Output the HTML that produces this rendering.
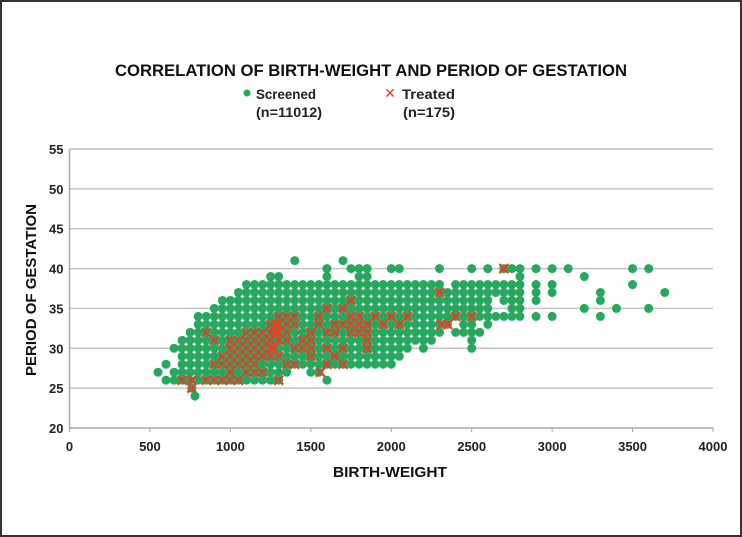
<!DOCTYPE html>
<html><head><meta charset="utf-8"><style>
body{margin:0;background:#fff}
svg{display:block;font-family:"Liberation Sans",sans-serif}
</style></head><body>
<svg id="chart" width="742" height="537" viewBox="0 0 742 537">
<rect x="1" y="1" width="740" height="535" fill="#fff" stroke="#333" stroke-width="2"/>
<text x="371" y="76" text-anchor="middle" font-weight="bold" font-size="17" textLength="512" lengthAdjust="spacingAndGlyphs" fill="#111">CORRELATION OF BIRTH-WEIGHT AND PERIOD OF GESTATION</text>
<g>
<circle cx="247" cy="93" r="3.5" fill="#27a85f"/>
<text x="256" y="99" font-size="14" font-weight="bold" fill="#222" textLength="60" lengthAdjust="spacingAndGlyphs">Screened</text>
<text x="256" y="117" font-size="14" font-weight="bold" fill="#222" textLength="66" lengthAdjust="spacingAndGlyphs">(n=11012)</text>
<text x="390" y="98" font-size="14" text-anchor="middle" fill="#e0402a">✕</text>
<text x="402" y="99" font-size="14" font-weight="bold" fill="#222" textLength="53" lengthAdjust="spacingAndGlyphs">Treated</text>
<text x="403" y="117" font-size="14" font-weight="bold" fill="#222" textLength="52" lengthAdjust="spacingAndGlyphs">(n=175)</text>
</g>
<g id="axes"></g>
<g id="marks"></g>
<text x="390" y="477" text-anchor="middle" font-size="15" font-weight="bold" fill="#111" textLength="114" lengthAdjust="spacingAndGlyphs">BIRTH-WEIGHT</text>
<text transform="translate(36,290) rotate(-90)" text-anchor="middle" font-size="15" font-weight="bold" fill="#111" textLength="172" lengthAdjust="spacingAndGlyphs">PERIOD OF GESTATION</text>
</svg>
<script>
const xTicks=[0,500,1000,1500,2000,2500,3000,3500,4000];
const yTicks=[20,25,30,35,40,45,50,55];
// screened: [gestation, weightFrom, weightTo] sampled every 50 g
const screenedRanges=[[24,780,780],[25,760,760],[26,600,650],[26,700,1300],[26,1600,1600],[27,550,550],[27,650,1350],[27,1500,1550],
[28,600,600],[28,700,2000],[29,700,2050],[30,650,650],[30,700,2100],[30,2200,2200],[30,2500,2500],[31,700,2250],[31,2500,2500],
[32,750,2300],[32,2400,2550],[33,800,2350],[33,2450,2500],[33,2600,2600],[34,800,2800],[34,2900,2900],[34,3000,3000],[34,3300,3300],
[35,900,2550],[35,2600,2600],[35,2750,2800],[35,3200,3200],[35,3400,3400],[35,3600,3600],[36,950,2550],[36,2600,2600],[36,2700,2800],[36,2900,2900],[36,3300,3300],
[37,1050,2650],[37,2700,2800],[37,2900,2900],[37,3000,3000],[37,3300,3300],[37,3700,3700],[38,1100,2300],[38,2400,2800],[38,2900,2900],[38,3000,3000],[38,3500,3500],
[39,1250,1300],[39,1600,1600],[39,1800,1850],[39,2800,2800],[39,3200,3200],
[40,1600,1600],[40,1750,1850],[40,2000,2050],[40,2300,2300],[40,2500,2500],[40,2600,2600],[40,2700,2800],[40,2900,2900],[40,3000,3000],[40,3100,3100],[40,3500,3500],[40,3600,3600],
[41,1400,1400],[41,1700,1700]];
const treatedW=[700,760,760,850,900,950,1000,1000,1050,900,950,1000,1050,1100,1150,1200,1250,1300,1300,1100,1150,1200,1250,1300,1350,1000,1050,1100,1150,1200,1250,1280,1000,1100,1150,1200,1250,1300,1350,1400,1450,1500,1550,1550,1600,1650,1700,1750,1800,1850,1900,1950,2000,2100,2050,2300,2350,2400,2500,2700,1300,1350,1400,1500,1600,1700,1750,1800,1350,1450,1500,1600,1700,1850,1400,1500,1650,1750,850,900,1200,1250,1250,1300,1500,1600,1650,1750,1850,1700,1200,2310,1560,
950,1000,1050,1100,1150,1200,1000,1050,1100,1150,1200,1250,1250,1270,1300,1280,1150,1100,1800,1750,1800,1850,1350,1400,1450];
const treatedG=[26,25,26,26,26,26,26,27,26,28,28,28,28,28,28,29,29,29,26,30,30,30,30,31,31,31,31,29,29,29,32,32,30,32,32,32,31,33,33,33,31,32,34,33,32,32,33,32,33,33,34,33,34,34,33,37,33,34,34,40,33,34,34,32,35,35,34,34,28,30,31,30,30,31,28,29,33,34,32,31,32,33,30,34,30,28,29,36,30,28,27,33,27,
29,29,29,29,29,29,30,30,31,31,31,32,31,30,32,33,27,27,32,33,33,32,32,30,31];
const X0=69.5,X1=713,Y0=428,Y1=149;
const xs=v=>X0+(v-0)/4000*(X1-X0);
const ys=v=>Y0-(v-20)/35*(Y0-Y1);
const NS="http://www.w3.org/2000/svg";
const axes=document.getElementById('axes'),marks=document.getElementById('marks');
function mk(t,a,p){const e=document.createElementNS(NS,t);for(const k in a)e.setAttribute(k,a[k]);p.appendChild(e);return e;}
yTicks.forEach(v=>{
 if(v>20){const l=mk('line',{x1:X0,x2:X1,y1:ys(v),y2:ys(v),stroke:'#c4c4c4','stroke-width':1.5},axes);
 
 }
 const t=mk('text',{x:X0-6,y:ys(v)+5,'text-anchor':'end','font-size':13,'font-weight':'bold',fill:'#222'},axes);
 t.textContent=v;
 
 
});
const xa=mk('line',{x1:X0,x2:X1,y1:Y0,y2:Y0,stroke:'#aaa','stroke-width':1.5},axes);


const ya=mk('line',{x1:X0,x2:X0,y1:Y1,y2:Y0,stroke:'#aaa','stroke-width':1.5},axes);


xTicks.forEach(v=>{
 mk('line',{x1:xs(v),x2:xs(v),y1:Y0,y2:Y0+4,stroke:'#aaa'},axes);
 const t=mk('text',{x:xs(v),y:Y0+23,'text-anchor':'middle','font-size':13,'font-weight':'bold',fill:'#222'},axes);
 t.textContent=v;
 
 
});
const gS=mk('g',{},marks);


screenedRanges.forEach(r=>{
 for(let w=r[1];w<=r[2];w+=50){
  const c=mk('circle',{cx:xs(w),cy:ys(r[0]),r:4.5,fill:'#27a85f'},gS);
  
  
 }
});
const gT=mk('g',{},marks);


treatedW.forEach((w,i)=>{
 const x=xs(w),y=ys(treatedG[i]),d=4.5;
 const p=mk('path',{d:`M${x-d},${y-d}L${x+d},${y+d}M${x+d},${y-d}L${x-d},${y+d}`,stroke:'#dc4428','stroke-width':2.2,fill:'none'},gT);
 
 
});
</script>
</body></html>
